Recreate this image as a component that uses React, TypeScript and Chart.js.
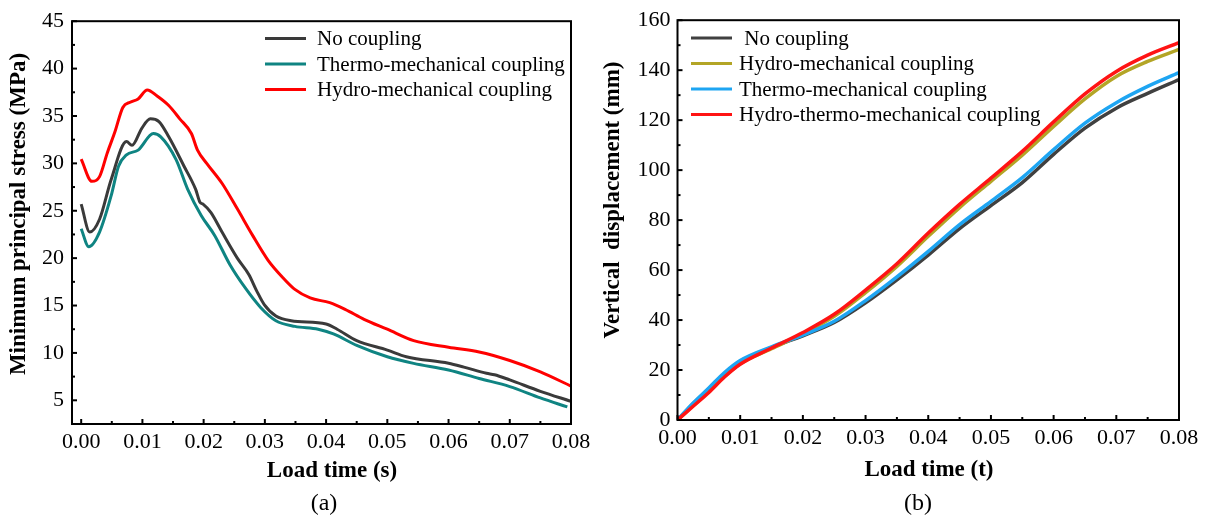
import React, { useEffect, useRef } from "react";
import { Chart, registerables } from "chart.js";

Chart.register(...registerables);

const FONT = "'Liberation Serif', 'Times New Roman', serif";

// ---------- Panel (a): Minimum principal stress ----------
const A_X_TICKS = [0, 0.01, 0.02, 0.03, 0.04, 0.05, 0.06, 0.07, 0.08];
const A_Y_TICKS = [5, 10, 15, 20, 25, 30, 35, 40, 45];

const A_NO_X = [0, 0.0014, 0.003, 0.0049, 0.0074, 0.0083, 0.0099, 0.0113, 0.0127, 0.0143, 0.0168, 0.0187, 0.0194, 0.0199, 0.0212, 0.023, 0.0255, 0.0274, 0.0287, 0.0299, 0.0318, 0.0343, 0.04, 0.0418, 0.045, 0.05, 0.0531, 0.06, 0.0625, 0.0662, 0.0675, 0.07, 0.075, 0.08];
const A_NO_Y = [25.7, 22.75, 24.1, 28.3, 32.3, 31.9, 33.7, 34.7, 34.4, 32.8, 29.7, 27.25, 25.9, 25.7, 24.8, 22.75, 20.0, 18.25, 16.5, 15.1, 13.9, 13.4, 13.05, 12.5, 11.3, 10.3, 9.6, 8.9, 8.5, 7.85, 7.7, 7.15, 5.95, 4.9];

const A_TM_X = [0, 0.00125, 0.003, 0.0049, 0.0061, 0.0074, 0.0093, 0.0118, 0.013, 0.0155, 0.0174, 0.0196, 0.0218, 0.0243, 0.0268, 0.0293, 0.0318, 0.0349, 0.0387, 0.0412, 0.045, 0.05, 0.0543, 0.06, 0.065, 0.07, 0.075, 0.0794];
const A_TM_Y = [23.1, 21.2, 22.75, 26.6, 29.7, 30.9, 31.4, 33.15, 32.8, 30.4, 27.25, 24.5, 22.4, 19.3, 16.85, 14.8, 13.4, 12.8, 12.5, 12.0, 10.8, 9.6, 8.9, 8.2, 7.3, 6.45, 5.25, 4.3];

const A_HM_X = [0, 0.00175, 0.003, 0.00426, 0.0055, 0.0068, 0.008, 0.0093, 0.0108, 0.0124, 0.0143, 0.0161, 0.018, 0.019, 0.0205, 0.023, 0.0255, 0.028, 0.0305, 0.033, 0.0349, 0.0374, 0.0406, 0.0431, 0.0462, 0.05, 0.0543, 0.06, 0.065, 0.07, 0.075, 0.08];
const A_HM_Y = [30.45, 28.1, 28.6, 31.1, 33.3, 35.9, 36.45, 36.8, 37.75, 37.1, 36.1, 34.7, 33.15, 31.4, 30.0, 27.9, 25.2, 22.4, 19.8, 17.9, 16.7, 15.8, 15.3, 14.6, 13.55, 12.5, 11.3, 10.6, 10.1, 9.2, 8.0, 6.5];

const A_LABELS = ["No coupling", "Thermo-mechanical coupling", "Hydro-mechanical coupling"];
const A_COLORS = ["#3a3a3a", "#0f8482", "#ff0000"];

// ---------- Panel (b): Vertical displacement ----------
const B_X_TICKS = [0, 0.01, 0.02, 0.03, 0.04, 0.05, 0.06, 0.07, 0.08];
const B_Y_TICKS = [0, 20, 40, 60, 80, 100, 120, 140, 160];

const B_X = [0, 0.0025, 0.005, 0.0075, 0.01, 0.015, 0.02, 0.025, 0.03, 0.035, 0.04, 0.045, 0.05, 0.055, 0.06, 0.065, 0.07, 0.075, 0.08];
const B_NO_Y = [0, 6.5, 12.5, 18.5, 23.1, 29, 33.7, 39, 46.9, 56.1, 66, 76.6, 85.8, 95, 106.3, 116.8, 124.8, 130.7, 136.2];
const B_HM_Y = [0, 5.8, 11.5, 17.5, 22.5, 28.5, 34.5, 41.5, 51, 61.5, 73.5, 85, 95.5, 106, 117.5, 128.5, 137.5, 143.5, 148.3];
const B_TM_Y = [0, 6.8, 12.8, 19, 23.8, 29.3, 34, 39.5, 47.8, 57.3, 67.5, 78.2, 87.5, 97, 108.2, 118.8, 127, 133.5, 139];
const B_HTM_Y = [0, 5.5, 11, 17.2, 22.3, 28.8, 35, 42.3, 52, 62.5, 74.8, 86.3, 96.8, 107.5, 119.3, 130.5, 139.5, 146, 151];

const B_LABELS = [" No coupling", "Hydro-mechanical coupling", "Thermo-mechanical coupling", "Hydro-thermo-mechanical coupling"];
const B_COLORS = ["#404040", "#b3a526", "#1ea5f2", "#ff1414"];

function pts(xs: number[], ys: number[]) {
  return xs.map((x, i) => ({ x, y: ys[i] }));
}

function mids(arr: number[]) {
  const out: number[] = [];
  for (let i = 0; i < arr.length - 1; i++) out.push((arr[i] + arr[i + 1]) / 2);
  return out;
}

type Decor = {
  xTicks: number[];
  yTicks: number[];
  labels: string[];
  colors: string[];
  legendX: number;
  legendLineLen: number;
  legendTextX: number;
  legendYs: number[];
  yTitle: string;
  yTitleX: number;
  yTitleY: number;
  xTitle: string;
  xTitleX: number;
  xTitleY: number;
  sub: string;
  subX: number;
  subY: number;
};

function decorPlugin(d: Decor) {
  return {
    id: "decor",
    afterDraw(chart: any) {
      const { ctx, chartArea } = chart;
      const { left, right, top, bottom } = chartArea;
      const xs = chart.scales.x;
      const ys = chart.scales.y;
      ctx.save();
      ctx.strokeStyle = "#000";
      ctx.lineWidth = 2;
      ctx.strokeRect(left, top, right - left, bottom - top);
      const seg = (x1: number, y1: number, x2: number, y2: number) => {
        ctx.beginPath();
        ctx.moveTo(x1, y1);
        ctx.lineTo(x2, y2);
        ctx.stroke();
      };
      d.xTicks.forEach((v) => {
        const p = xs.getPixelForValue(v);
        seg(p, bottom, p, bottom - 5);
      });
      mids(d.xTicks).forEach((v) => {
        const p = xs.getPixelForValue(v);
        seg(p, bottom, p, bottom - 3);
      });
      d.yTicks.forEach((v) => {
        const p = ys.getPixelForValue(v);
        seg(left, p, left + 5, p);
      });
      mids(d.yTicks).forEach((v) => {
        const p = ys.getPixelForValue(v);
        seg(left, p, left + 3, p);
      });

      // legend
      ctx.font = `21px ${FONT}`;
      ctx.textBaseline = "middle";
      ctx.textAlign = "left";
      d.labels.forEach((lab, i) => {
        const y = d.legendYs[i];
        ctx.strokeStyle = d.colors[i];
        ctx.lineWidth = 3;
        seg(d.legendX, y, d.legendX + d.legendLineLen, y);
        ctx.fillStyle = "#000";
        ctx.fillText(lab, d.legendTextX, y + 1);
      });

      // titles
      ctx.fillStyle = "#000";
      ctx.font = `bold 23px ${FONT}`;
      ctx.textAlign = "center";
      ctx.textBaseline = "middle";
      ctx.fillText(d.xTitle, d.xTitleX, d.xTitleY);
      ctx.save();
      ctx.translate(d.yTitleX, d.yTitleY);
      ctx.rotate(-Math.PI / 2);
      ctx.fillText(d.yTitle, 0, 0);
      ctx.restore();
      ctx.font = `24px ${FONT}`;
      ctx.fillText(d.sub, d.subX, d.subY);
      ctx.restore();
    },
  };
}

function makeConfig(opts: {
  datasets: any[];
  xMin: number;
  xMax: number;
  yMin: number;
  yMax: number;
  xTicks: number[];
  yTicks: number[];
  yWidth: number;
  xHeight: number;
  padTop: number;
  padRight: number;
  yPad: number;
  decor: Decor;
}) {
  return {
    type: "line" as const,
    data: { datasets: opts.datasets },
    options: {
      responsive: false,
      animation: false as const,
      devicePixelRatio: 1,
      layout: { padding: { top: opts.padTop, right: opts.padRight, left: 0, bottom: 0 } },
      plugins: { legend: { display: false }, tooltip: { enabled: false }, title: { display: false } },
      elements: { point: { radius: 0 } },
      scales: {
        x: {
          type: "linear" as const,
          min: opts.xMin,
          max: opts.xMax,
          afterBuildTicks: (s: any) => {
            s.ticks = opts.xTicks.map((v) => ({ value: v }));
          },
          afterFit: (s: any) => {
            s.height = opts.xHeight;
          },
          grid: { display: false, drawTicks: false },
          border: { display: false },
          ticks: {
            padding: 5,
            autoSkip: false,
            maxRotation: 0,
            color: "#000",
            font: { family: FONT, size: 22 },
            callback: (v: any) => Number(v).toFixed(2),
          },
        },
        y: {
          type: "linear" as const,
          min: opts.yMin,
          max: opts.yMax,
          afterBuildTicks: (s: any) => {
            s.ticks = opts.yTicks.map((v) => ({ value: v }));
          },
          afterFit: (s: any) => {
            s.width = opts.yWidth;
          },
          grid: { display: false, drawTicks: false },
          border: { display: false },
          ticks: {
            padding: opts.yPad,
            autoSkip: false,
            color: "#000",
            font: { family: FONT, size: 22 },
            callback: (v: any) => String(v),
          },
        },
      },
    },
    plugins: [decorPlugin(opts.decor)],
  };
}

function ChartCanvas({ left, width, height, build }: { left: number; width: number; height: number; build: () => any }) {
  const ref = useRef<HTMLCanvasElement>(null);
  useEffect(() => {
    const chart = new Chart(ref.current as HTMLCanvasElement, build());
    return () => chart.destroy();
  }, []);
  return (
    <canvas
      ref={ref}
      width={width}
      height={height}
      style={{ position: "absolute", left, top: 0, width, height, display: "block" }}
    />
  );
}

function lineDs(label: string, data: any[], color: string, width: number, order: number) {
  return {
    label,
    data,
    borderColor: color,
    backgroundColor: color,
    borderWidth: width,
    pointRadius: 0,
    fill: false,
    cubicInterpolationMode: "monotone" as const,
    order,
  };
}

function buildA() {
  return makeConfig({
    datasets: [
      lineDs(A_LABELS[0], pts(A_NO_X, A_NO_Y), A_COLORS[0], 3, 0),
      lineDs(A_LABELS[1], pts(A_TM_X, A_TM_Y), A_COLORS[1], 3, 1),
      lineDs(A_LABELS[2], pts(A_HM_X, A_HM_Y), A_COLORS[2], 3, 2),
    ],
    xMin: -0.0015,
    xMax: 0.08,
    yMin: 2.5,
    yMax: 45,
    xTicks: A_X_TICKS,
    yTicks: A_Y_TICKS,
    yWidth: 72,
    xHeight: 95,
    padTop: 17.5,
    padRight: 29,
    yPad: 8,
    decor: {
      xTicks: A_X_TICKS,
      yTicks: A_Y_TICKS,
      labels: A_LABELS,
      colors: A_COLORS,
      legendX: 265,
      legendLineLen: 41,
      legendTextX: 317,
      legendYs: [38.5, 64, 89.5],
      yTitle: "Minimum principal stress (MPa)",
      yTitleX: 19,
      yTitleY: 214,
      xTitle: "Load time (s)",
      xTitleX: 332,
      xTitleY: 471,
      sub: "(a)",
      subX: 324,
      subY: 504,
    },
  });
}

function buildB() {
  return makeConfig({
    datasets: [
      lineDs(B_LABELS[0], pts(B_X, B_NO_Y), B_COLORS[0], 3.5, 3),
      lineDs(B_LABELS[1], pts(B_X, B_HM_Y), B_COLORS[1], 3.5, 2),
      lineDs(B_LABELS[2], pts(B_X, B_TM_Y), B_COLORS[2], 3.5, 1),
      lineDs(B_LABELS[3], pts(B_X, B_HTM_Y), B_COLORS[3], 3.5, 0),
    ],
    xMin: 0,
    xMax: 0.08,
    yMin: 0,
    yMax: 160,
    xTicks: B_X_TICKS,
    yTicks: B_Y_TICKS,
    yWidth: 77.5,
    xHeight: 99,
    padTop: 16,
    padRight: 31,
    yPad: 7,
    decor: {
      xTicks: B_X_TICKS,
      yTicks: B_Y_TICKS,
      labels: B_LABELS,
      colors: B_COLORS,
      legendX: 91,
      legendLineLen: 41,
      legendTextX: 139,
      legendYs: [38, 63.5, 89, 114.5],
      yTitle: "Vertical  displacement (mm)",
      yTitleX: 13,
      yTitleY: 200,
      xTitle: "Load time (t)",
      xTitleX: 329,
      xTitleY: 470,
      sub: "(b)",
      subX: 318,
      subY: 504,
    },
  });
}

export default function App() {
  return (
    <div style={{ position: "absolute", left: 0, top: 0, width: 1210, height: 519, background: "#fff" }}>
      <ChartCanvas left={0} width={600} height={519} build={buildA} />
      <ChartCanvas left={600} width={610} height={519} build={buildB} />
    </div>
  );
}
